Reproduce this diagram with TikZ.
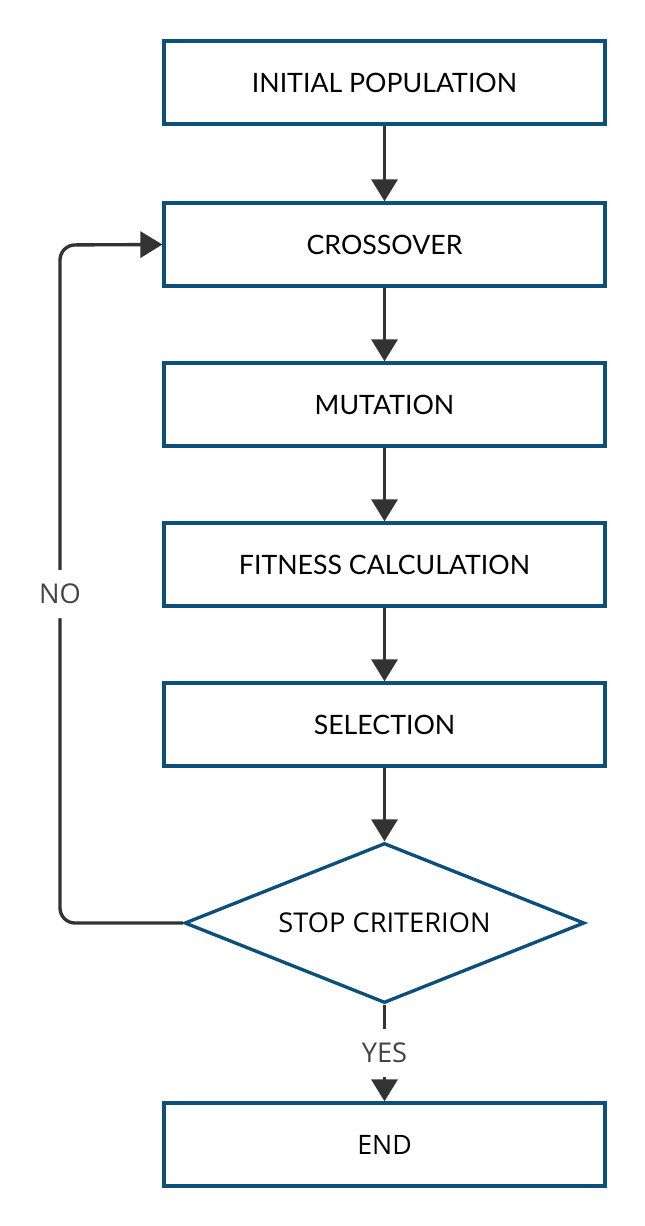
\documentclass[tikz,border=0pt]{standalone}
\usepackage{fontspec}
\setmainfont{Lato}
\newfontfamily\opensans{Open Sans}
\usetikzlibrary{shapes.geometric,arrows.meta}

\definecolor{boxblue}{HTML}{0B4F7A}
\definecolor{arrowgray}{HTML}{333333}
\definecolor{labelgray}{HTML}{444444}

\tikzset{
  stepbox/.style={draw=boxblue, line width=1.9pt, fill=white, minimum width=8.82cm,
    minimum height=1.66cm, inner sep=0pt, font=\fontsize{15.2}{18}\selectfont},
  testbox/.style={diamond, shape aspect=2.5, draw=boxblue, line width=1.9pt, fill=white,
    minimum width=8cm, minimum height=3.2cm, inner sep=0pt,
    font=\opensans\fontsize{15.5}{18}\selectfont},
  flow/.style={draw=arrowgray, line width=1.9pt, -{Triangle[length=0.44cm, width=0.52cm]}},
  answer/.style={fill=white, text=labelgray, inner xsep=3pt, inner ysep=8pt,
    font=\opensans\fontsize{15.5}{18}\selectfont}
}

\begin{document}
\begin{tikzpicture}[x=0.02cm, y=-0.02cm]

\useasboundingbox (0,0) rectangle (645,1226);
\coordinate (K) at (60,923);
\coordinate (L) at (60,245);

\node [stepbox] (init) at (384.5,82.5) {INITIAL POPULATION};
\node [stepbox] (cross) at (384.5,244.5) {CROSSOVER};
\node [stepbox] (mut) at (384.5,404.5) {MUTATION};
\node [stepbox] (fit) at (384.5,564.5) {FITNESS CALCULATION};
\node [stepbox] (sel) at (384.5,724.5) {SELECTION};
\node [testbox] (stop) at (384.5,923) {STOP CRITERION};
\node [stepbox] (end) at (384.5,1144.5) {\opensans END};

\draw [flow] (init) -- (cross);
\draw [flow] (cross) -- (mut);
\draw [flow] (mut) -- (fit);
\draw [flow] (fit) -- (sel);
\draw [flow] (sel) -- (stop);
\draw [flow] (stop.south) -- node [answer] (yes) {YES} (end.north);
\draw [flow, rounded corners=0.3cm] (stop.west) -- (K) -- node [answer, pos=0.485] (no) {NO} (L) -- (cross.west);
\end{tikzpicture}
\end{document}
